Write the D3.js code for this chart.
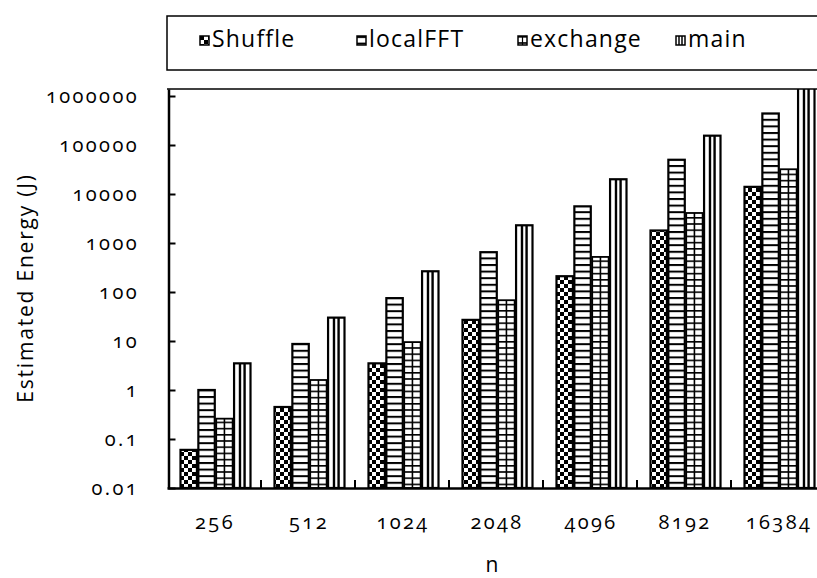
<!DOCTYPE html>
<html>
<head>
<meta charset="utf-8">
<script src="https://cdn.jsdelivr.net/npm/d3@7"></script>
<style>
  body { margin: 0; background: #fff; }
  svg { display: block; overflow: hidden; }
  text { font-family: "Open Sans", "DejaVu Sans", sans-serif; fill: #000; font-variant-numeric: oldstyle-nums; }
</style>
</head>
<body>
<div id="chart"></div>
<script>
var width = 817,
    height = 578;
var PLOT_LEFT = 167, PLOT_RIGHT = 825, PLOT_TOP = 89, PLOT_BOTTOM = 488;

// data
var categories = ["256", "512", "1024", "2048", "4096", "8192", "16384"];
var seriesNames = ["Shuffle", "localFFT", "exchange", "main"];
var shuffleVals  = [0.06, 0.45, 3.5, 27, 210, 1800, 14000];
var localFFTVals = [1.0, 8.7, 75, 650, 5600, 50000, 440000];
var exchangeVals = [0.26, 1.6, 9.5, 68, 520, 4100, 32000];
var mainVals     = [3.5, 30, 265, 2300, 20000, 155000, 1500000];
var yTicks = [0.01, 0.1, 1, 10, 100, 1000, 10000, 100000, 1000000];
var yTickLabels = ["0.01", "0.1", "1", "10", "100", "1000", "10000", "100000", "1000000"];

var allVals = [shuffleVals, localFFTVals, exchangeVals, mainVals];
var barData = [];
categories.forEach(function(c, i) {
    seriesNames.forEach(function(s, j) {
        barData.push({cat: c, series: s, value: allVals[j][i]});
    });
});

var svg = d3.select("#chart").append("svg")
    .attr("width", width)
    .attr("height", height);

var defs = svg.append("defs");

// checkerboard for Shuffle
var pCheck = defs.append("pattern").attr("id", "pat-check")
    .attr("patternUnits", "userSpaceOnUse").attr("width", 8).attr("height", 8);
pCheck.append("rect").attr("width", 8).attr("height", 8).attr("fill", "#fff");
pCheck.append("rect").attr("width", 4).attr("height", 4).attr("fill", "#000");
pCheck.append("rect").attr("x", 4).attr("y", 4).attr("width", 4).attr("height", 4).attr("fill", "#000");

// horizontal lines for localFFT / exchange
var pH = defs.append("pattern").attr("id", "pat-h")
    .attr("patternUnits", "userSpaceOnUse").attr("width", 8).attr("height", 6.6);
pH.append("rect").attr("width", 8).attr("height", 6.6).attr("fill", "#fff");
pH.append("rect").attr("y", 0).attr("width", 8).attr("height", 2).attr("fill", "#000");

var pH2 = defs.append("pattern").attr("id", "pat-h2")
    .attr("patternUnits", "userSpaceOnUse").attr("width", 8).attr("height", 6.2);
pH2.append("rect").attr("width", 8).attr("height", 6.2).attr("fill", "#fff");
pH2.append("rect").attr("y", 0).attr("width", 8).attr("height", 1.6).attr("fill", "#000");

var fills = {Shuffle: "url(#pat-check)", localFFT: "url(#pat-h)", exchange: "url(#pat-h2)", main: "#fff"};

var x0 = d3.scaleBand().domain(categories).range([PLOT_LEFT, PLOT_RIGHT]);
var x1 = d3.scaleBand().domain(seriesNames).range([13.5, 83.5]).paddingInner(0.08);
var y = d3.scaleLog().domain([0.01, 1390000]).range([PLOT_BOTTOM, PLOT_TOP]);

svg.append("clipPath").attr("id", "plot-clip")
    .append("rect")
    .attr("x", PLOT_LEFT).attr("y", PLOT_TOP)
    .attr("width", PLOT_RIGHT - PLOT_LEFT).attr("height", PLOT_BOTTOM - PLOT_TOP);

var plot = svg.append("g").attr("clip-path", "url(#plot-clip)");

var bars = plot.selectAll("g.bar")
    .data(barData)
    .enter()
    .append("g")
        .attr("class", "bar");

bars.append("rect")
    .attr("x", function(d) { return x0(d.cat) + x1(d.series); })
    .attr("y", function(d) { return y(d.value); })
    .attr("width", x1.bandwidth())
    .attr("height", function(d) { return PLOT_BOTTOM - y(d.value); })
    .attr("fill", function(d) { return fills[d.series]; })
    .attr("stroke", "#000")
    .attr("stroke-width", function(d) { return d.series == "exchange" ? 1.8 : 2.2; });

// vertical centre line of exchange grid
bars.filter(function(d) { return d.series == "exchange"; })
    .append("line")
    .attr("x1", function(d) { return x0(d.cat) + x1(d.series) + x1.bandwidth() / 2; })
    .attr("x2", function(d) { return x0(d.cat) + x1(d.series) + x1.bandwidth() / 2; })
    .attr("y1", function(d) { return y(d.value); })
    .attr("y2", PLOT_BOTTOM)
    .attr("stroke", "#000")
    .attr("stroke-width", 1.6);

// vertical stripes of main
[0.36, 0.64].forEach(function(f) {
    bars.filter(function(d) { return d.series == "main"; })
        .append("line")
        .attr("x1", function(d) { return x0(d.cat) + x1(d.series) + x1.bandwidth() * f; })
        .attr("x2", function(d) { return x0(d.cat) + x1(d.series) + x1.bandwidth() * f; })
        .attr("y1", function(d) { return y(d.value); })
        .attr("y2", PLOT_BOTTOM)
        .attr("stroke", "#000")
        .attr("stroke-width", 2.4);
});

// frame top line
svg.append("line")
    .attr("x1", PLOT_LEFT).attr("x2", width)
    .attr("y1", PLOT_TOP).attr("y2", PLOT_TOP)
    .attr("stroke", "#000").attr("stroke-width", 1.5);

// y axis
var yAxis = d3.axisRight(y)
    .tickValues(yTicks)
    .tickFormat("")
    .tickSize(7)
    .tickSizeOuter(0);
var gy = svg.append("g")
    .attr("transform", "translate(" + (PLOT_LEFT + 1.5) + ",0)")
    .call(yAxis);
gy.select(".domain").attr("stroke-width", 2.5);
gy.selectAll(".tick line").attr("stroke-width", 2);

svg.selectAll("text.ylab")
    .data(yTicks)
    .enter()
    .append("text")
        .attr("class", "ylab")
        .attr("x", 139)
        .attr("y", function(d) { return y(d); })
        .attr("dy", "0.35em")
        .attr("text-anchor", "end")
        .attr("font-size", "20px")
        .attr("letter-spacing", "2.4px")
        .text(function(d, i) { return yTickLabels[i]; });

// x axis
var xAxis = d3.axisBottom(x0).tickSize(0).tickFormat("");
var gx = svg.append("g")
    .attr("transform", "translate(0," + PLOT_BOTTOM + ")")
    .call(xAxis);
gx.select(".domain").attr("stroke-width", 2.5);

// category boundary ticks
plot.selectAll("line.xtick")
    .data(categories.slice(1))
    .enter()
    .append("line")
        .attr("class", "xtick")
        .attr("x1", function(d) { return x0(d); })
        .attr("x2", function(d) { return x0(d); })
        .attr("y1", PLOT_BOTTOM)
        .attr("y2", PLOT_BOTTOM - 8)
        .attr("stroke", "#000")
        .attr("stroke-width", 2);

svg.selectAll("text.xlab")
    .data(categories)
    .enter()
    .append("text")
        .attr("class", "xlab")
        .attr("x", function(d) { return x0(d) + x0.bandwidth() / 2 + 1; })
        .attr("y", 529)
        .attr("text-anchor", "middle")
        .attr("font-size", "20px")
        .attr("letter-spacing", "2.4px")
        .text(function(d) { return d; });

svg.append("text")
    .attr("x", 492)
    .attr("y", 572)
    .attr("text-anchor", "middle")
    .attr("font-size", "21px")
    .text("n");

svg.append("text")
    .attr("transform", "translate(33,288) rotate(-90)")
    .attr("text-anchor", "middle")
    .attr("font-size", "21px")
    .attr("letter-spacing", "1.8px")
    .text("Estimated Energy (J)");

// legend
svg.append("rect")
    .attr("x", 167).attr("y", 16)
    .attr("width", 660).attr("height", 54)
    .attr("fill", "#fff")
    .attr("stroke", "#000")
    .attr("stroke-width", 1.5);

var legendX = [200, 357, 518, 676];
var legend = svg.selectAll("g.legend")
    .data(seriesNames)
    .enter()
    .append("g")
        .attr("class", "legend")
        .attr("transform", function(d, i) { return "translate(" + legendX[i] + ",36)"; });

legend.append("rect")
    .attr("width", 9).attr("height", 9)
    .attr("fill", function(d) { return fills[d]; })
    .attr("stroke", "#000")
    .attr("stroke-width", 1.5);

legend.filter(function(d) { return d == "exchange"; })
    .append("line")
    .attr("x1", 4.5).attr("x2", 4.5).attr("y1", 0).attr("y2", 9)
    .attr("stroke", "#000").attr("stroke-width", 1.2);

legend.filter(function(d) { return d == "main"; })
    .selectAll("line.v")
    .data([3, 6])
    .enter()
    .append("line")
        .attr("x1", function(v) { return v; }).attr("x2", function(v) { return v; })
        .attr("y1", 0).attr("y2", 9)
        .attr("stroke", "#000").attr("stroke-width", 1.5);

legend.append("text")
    .attr("x", 12)
    .attr("y", 11)
    .attr("font-size", "23px")
    .attr("letter-spacing", "1.2px")
    .text(function(d) { return d; });
</script>
</body>
</html>
